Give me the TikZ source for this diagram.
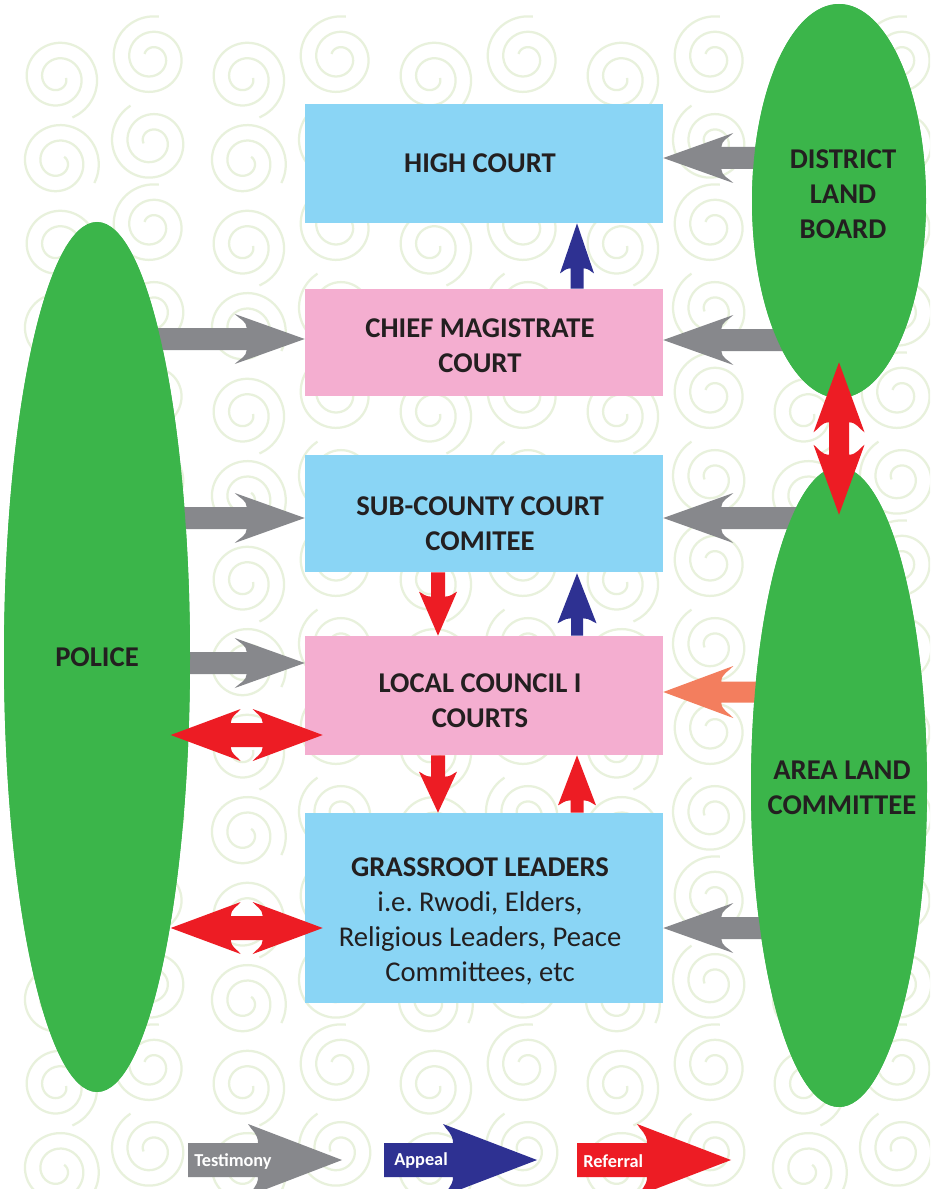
\documentclass[tikz,border=0pt]{standalone}
\usepackage{fontspec}
\setmainfont{Carlito}
\frenchspacing
\usetikzlibrary{shapes.geometric,calc}
\definecolor{boxblue}{RGB}{138,213,245}
\definecolor{boxpink}{RGB}{244,174,208}
\definecolor{elgreen}{RGB}{59,181,74}
\definecolor{argrey}{RGB}{135,136,140}
\definecolor{arblue}{RGB}{46,49,146}
\definecolor{arred}{RGB}{237,28,36}
\definecolor{arorange}{RGB}{243,126,94}
\definecolor{swirlc}{RGB}{232,241,220}
\definecolor{ink}{RGB}{35,31,32}

% #1 style, #2 tail, #3 tip, #4 shaft half width, #5 head length, #6 head half width, #7 notch
\newcommand\bagetgeom[2]{%
  \path let \p1=(#1), \p2=(#2) in \pgfextra{%
    \pgfmathsetmacro\tmpang{atan2(\y2-\y1,\x2-\x1)}%
    \pgfmathsetmacro\tmplen{veclen(\x2-\x1,\y2-\y1)/0.5690551}%
    \xdef\baang{\tmpang}\xdef\balen{\tmplen}\xdef\bax{\x1}\xdef\bay{\y1}};%
}
\newcommand\blkarrow[7]{%
  \bagetgeom{#2}{#3}
  \fill[#1, shift={(\bax,\bay)}, rotate=\baang]
    (0,#4) -- ({\balen-#5+#7},#4)
    .. controls ({\balen-#5+#7},{#4+0.5*(#6-#4)}) and ({\balen-#5+0.3*#7},{#6-0.3*(#6-#4)}) .. ({\balen-#5},#6)
    -- (\balen,0) -- ({\balen-#5},-#6)
    .. controls ({\balen-#5+0.3*#7},{-#6+0.3*(#6-#4)}) and ({\balen-#5+#7},{-#4-0.5*(#6-#4)}) .. ({\balen-#5+#7},-#4)
    -- (0,-#4) -- cycle;
}
\newcommand\dblarrow[7]{%
  \bagetgeom{#2}{#3}
  \fill[#1, shift={(\bax,\bay)}, rotate=\baang]
    (0,0) -- (#5,#6)
    .. controls ({#5-0.3*#7},{#6-0.3*(#6-#4)}) and ({#5-#7},{#4+0.5*(#6-#4)}) .. ({#5-#7},#4)
    -- ({\balen-#5+#7},#4)
    .. controls ({\balen-#5+#7},{#4+0.5*(#6-#4)}) and ({\balen-#5+0.3*#7},{#6-0.3*(#6-#4)}) .. ({\balen-#5},#6)
    -- (\balen,0) -- ({\balen-#5},-#6)
    .. controls ({\balen-#5+0.3*#7},{-#6+0.3*(#6-#4)}) and ({\balen-#5+#7},{-#4-0.5*(#6-#4)}) .. ({\balen-#5+#7},-#4)
    -- ({#5-#7},-#4)
    .. controls ({#5-#7},{-#4-0.5*(#6-#4)}) and ({#5-0.3*#7},{-#6+0.3*(#6-#4)}) .. (#5,-#6)
    -- cycle;
}

\begin{document}
\begin{tikzpicture}[x=0.02cm,y=-0.02cm,
  boxn/.style={rectangle, inner sep=0pt, minimum width=7.16cm},
  txt/.style={text=ink, font=\fontsize{16.3}{19.9}\selectfont\bfseries, align=center, inner sep=0pt},
  ell/.style={ellipse, fill=elgreen, inner sep=0pt},
  leg/.style={text=white, font=\fontsize{10.4}{12}\selectfont\bfseries, anchor=west, inner sep=0pt},
  swirlline/.style={draw=swirlc, line width=0.045cm}]

\useasboundingbox (0,0) rectangle (930,1189);
\fill[white] (0,0) rectangle (930,1189);

% background swirls
\begin{scope}
\clip (0,0) rectangle (930,1189);
\foreach \i in {0,...,10} {
  \foreach \j in {0,...,14} {
    \pgfmathsetmacro\cx{\i*93.5+58}
    \pgfmathsetmacro\cy{\j*84+78-mod(\i,2)*20}
    \pgfmathsetmacro\rot{mod(\i,2)*150+mod(\j,2)*40}
    \draw[swirlline, shift={(\cx,\cy)}, rotate=\rot]
      plot[domain=0:790, samples=80, smooth] ({\x}:{8+0.04304*\x});
  }
}
\end{scope}

% boxes
\node[boxn, fill=boxblue, minimum height=2.38cm] (hc) at (484,163.5) {};
\node[boxn, fill=boxpink, minimum height=2.14cm] (cm) at (484,342.5) {};
\node[boxn, fill=boxblue, minimum height=2.34cm] (sc) at (484,513.5) {};
\node[boxn, fill=boxpink, minimum height=2.38cm] (lc) at (484,695.5) {};
\node[boxn, fill=boxblue, minimum height=3.8cm] (gr) at (484,908) {};
\node[txt] (hct) at ($(hc.center)+(-4,0)$) {HIGH COURT};
\node[txt] (cmt) at ($(cm.center)+(-4,3)$) {CHIEF MAGISTRATE\\COURT};
\node[txt] (sct) at ($(sc.center)+(-4,10.5)$) {SUB-COUNTY COURT\\COMITEE};
\node[txt] (lct) at ($(lc.center)+(-4,5.5)$) {LOCAL COUNCIL I\\COURTS};
\node[txt] (grt) at ($(gr.center)+(-4,13)$) {GRASSROOT LEADERS\\\mdseries i.e. Rwodi, Elders,\\\mdseries Religious Leaders, Peace\\\mdseries Committees, etc};

% ellipses (nodes defined first for anchors)
\path (97,657) node[ell, minimum width=3.72cm, minimum height=17.4cm] (pol) {};
\path (839,201) node[ell, minimum width=3.48cm, minimum height=7.88cm] (dlb) {};
\path (839,787) node[ell, minimum width=3.52cm, minimum height=12.8cm] (alc) {};

% grey / orange arrows (under the ellipses)
\blkarrow{argrey}{$(hc.east)+(167,-5.5)$}{$(hc.east)+(0,-5.5)$}{11}{70}{25}{12}
\blkarrow{argrey}{$(cm.east)+(167,-2.5)$}{$(cm.east)+(0,-2.5)$}{11}{70}{25}{12}
\blkarrow{argrey}{$(cm.west)+(-195,-3.5)$}{$(cm.west)+(0,-3.5)$}{11}{70}{25}{12}
\blkarrow{argrey}{$(sc.west)+(-195,4.5)$}{$(sc.west)+(0,4.5)$}{11}{70}{25}{12}
\blkarrow{argrey}{$(sc.east)+(167,4.5)$}{$(sc.east)+(0,4.5)$}{11}{70}{25}{12}
\blkarrow{argrey}{$(lc.west)+(-195,-32.5)$}{$(lc.west)+(0,-32.5)$}{11}{70}{25}{12}
\blkarrow{arorange}{$(lc.east)+(167,-3.5)$}{$(lc.east)+(0,-3.5)$}{10.5}{70}{26}{12}
\blkarrow{argrey}{$(gr.east)+(167,20)$}{$(gr.east)+(0,20)$}{11}{70}{25}{12}

% ellipses drawn on top
\fill[elgreen] (pol.center) ellipse [x radius=93, y radius=435];
\fill[elgreen] (dlb.center) ellipse [x radius=87, y radius=197];
\fill[elgreen] (alc.center) ellipse [x radius=88, y radius=320];
\node[txt] (polt) at (pol.center) {POLICE};
\node[txt] (dlbt) at ($(dlb.center)+(4,-7)$) {DISTRICT\\LAND\\BOARD};
\node[txt] (alct) at ($(alc.center)+(3,1)$) {AREA LAND\\COMMITTEE};

% red double arrows
\dblarrow{arred}{$(lc.west)+(-134,39.5)$}{$(lc.west)+(18,39.5)$}{12}{70}{26}{10}
\dblarrow{arred}{$(gr.west)+(-134,20)$}{$(gr.west)+(18,20)$}{12}{70}{26}{10}
\dblarrow{arred}{$(dlb.south)+(0,-36)$}{$(alc.north)+(0,48)$}{10}{70}{25.5}{10}

% vertical arrows between boxes
\blkarrow{arred}{$(sc.south)+(-46,0)$}{$(lc.north)+(-46,0)$}{7}{44}{19}{5}
\blkarrow{arblue}{$(lc.north)+(93,0)$}{$(sc.south)+(93,1)$}{6}{50}{19.5}{5}
\blkarrow{arblue}{$(cm.north)+(93,0)$}{$(hc.south)+(93,0)$}{6.5}{50}{17}{5}
\blkarrow{arred}{$(lc.south)+(-46,0)$}{$(gr.north)+(-46,0)$}{7}{41}{19}{5}
\blkarrow{arred}{$(gr.north)+(93,0)$}{$(lc.south)+(93,0)$}{6.5}{50}{19}{5}

% legend
\coordinate (l1a) at (188,1160); \coordinate (l1b) at (342,1160);
\coordinate (l2a) at (384,1160); \coordinate (l2b) at (537,1160);
\coordinate (l3a) at (577,1160); \coordinate (l3b) at (731,1160);
\blkarrow{argrey}{l1a}{l1b}{17}{94}{36}{10}
\blkarrow{arblue}{l2a}{l2b}{17}{94}{36}{10}
\blkarrow{arred}{l3a}{l3b}{17}{94}{36}{10}
\node[leg] (lt1) at ($(l1a)+(6,1)$) {Testimony};
\node[leg] (lt2) at ($(l2a)+(10,1)$) {Appeal};
\node[leg] (lt3) at ($(l3a)+(6,1)$) {Referral};
\end{tikzpicture}
\end{document}
